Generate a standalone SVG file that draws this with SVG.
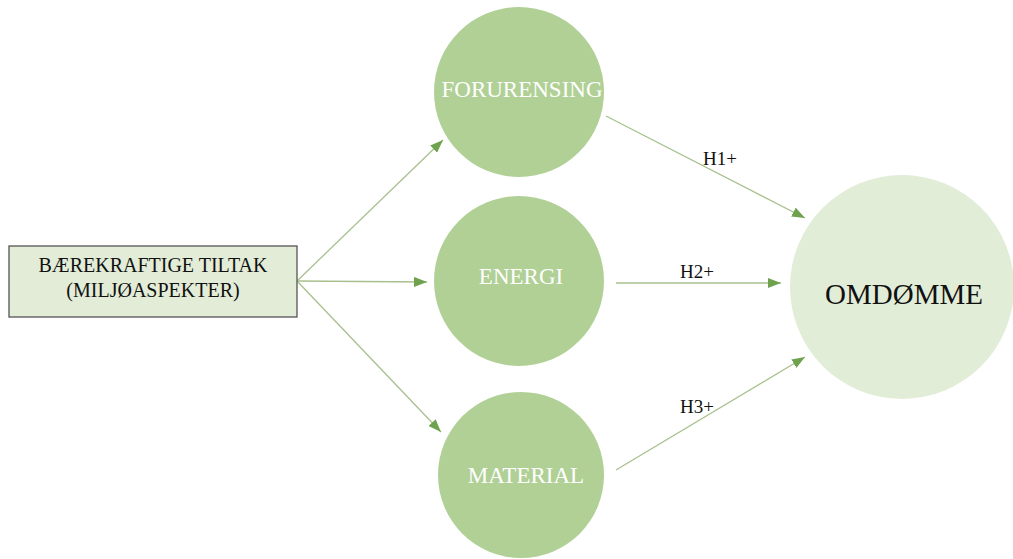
<svg xmlns="http://www.w3.org/2000/svg" width="1013" height="559" viewBox="0 0 1013 559">
<style>
.conn{stroke:#a8c08e;stroke-width:1.3;fill:none;marker-end:url(#ah)}
.circ{fill:#b0d096}
.ct{font-family:"Liberation Serif",serif;font-size:23px;fill:#ffffff;text-anchor:middle}
.lbl{font-family:"Liberation Serif",serif;font-size:19px;fill:#111111;text-anchor:middle}
.bt{font-family:"Liberation Serif",serif;font-size:20px;fill:#111111;text-anchor:middle}
</style>
<defs>
<marker id="ah" markerUnits="userSpaceOnUse" markerWidth="14" markerHeight="10" refX="13" refY="5" orient="auto">
<path d="M0,0 L13,5 L0,10 Z" fill="#6fa24f"/>
</marker>
</defs>
<rect width="1013" height="559" fill="#ffffff"/>
<g id="connectors">
<line class="conn" x1="297" y1="281" x2="443" y2="140"/>
<line class="conn" x1="297" y1="281" x2="427" y2="282"/>
<line class="conn" x1="297" y1="281" x2="441" y2="432"/>
<line class="conn" x1="606" y1="116" x2="805" y2="218"/>
<line class="conn" x1="616" y1="283" x2="781" y2="283"/>
<line class="conn" x1="616" y1="470" x2="805" y2="357"/>
<text class="lbl" x="720" y="165">H1+</text>
<text class="lbl" x="697" y="278">H2+</text>
<text class="lbl" x="697" y="413">H3+</text>
</g>
<g id="box">
<rect x="9" y="246" width="288" height="71" fill="#e2ecd7" stroke="#555555" stroke-width="1.3"/>
<text class="bt" x="153" y="272">BÆREKRAFTIGE TILTAK</text>
<text class="bt" x="153" y="297">(MILJØASPEKTER)</text>
</g>
<g id="forurensing">
<circle class="circ" cx="519" cy="92" r="85"/>
<text class="ct" x="522" y="97">FORURENSING</text>
</g>
<g id="energi">
<circle class="circ" cx="519" cy="281" r="85"/>
<text class="ct" x="521" y="284">ENERGI</text>
</g>
<g id="material">
<circle class="circ" cx="521" cy="475" r="83"/>
<text class="ct" x="526" y="483">MATERIAL</text>
</g>
<g id="omdomme">
<circle cx="902" cy="287" r="112" fill="#e2edd8"/>
<text x="904" y="304" font-family="Liberation Serif, serif" font-size="29" fill="#111111" text-anchor="middle">OMDØMME</text>
</g>
</svg>
